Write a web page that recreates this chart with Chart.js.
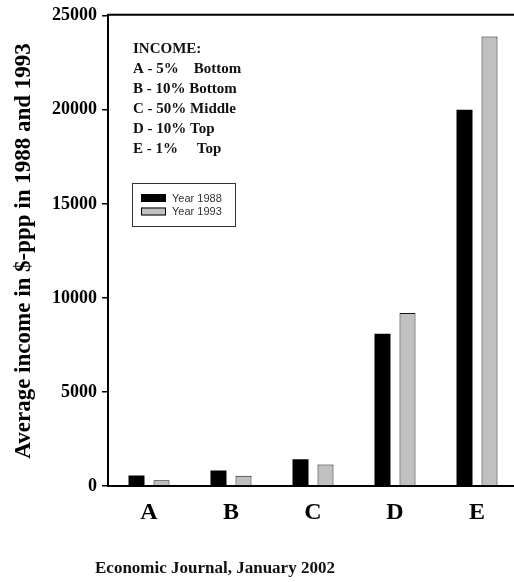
<!DOCTYPE html>
<html>
<head>
<meta charset="utf-8">
<script src="https://cdn.jsdelivr.net/npm/chart.js@4/dist/chart.umd.min.js"></script>
<style>
  html, body { margin: 0; padding: 0; background: #fff; overflow: hidden; }
  #wrap { position: relative; width: 518px; height: 582px; }
</style>
</head>
<body>
<div id="wrap"><canvas id="barChart" width="518" height="582"></canvas></div>
<script>
  // chart data
  const categories = ["A", "B", "C", "D", "E"];
  const year1988 = [560, 820, 1420, 8100, 20000];
  const year1993 = [300, 540, 1140, 9200, 23900];
  const yTicks = [0, 5000, 10000, 15000, 20000, 25000];
  const incomeLines = [
    "INCOME:",
    "A - 5%    Bottom",
    "B - 10% Bottom",
    "C - 50% Middle",
    "D - 10% Top",
    "E - 1%     Top",
  ];
  const sourceNote = "Economic Journal, January 2002";

  const serif = "'Liberation Serif', 'Times New Roman', serif";

  // draws the text block, the boxed legend, the top frame line and the source line
  const extras = {
    id: "extras",
    afterDraw(chart) {
      const ctx = chart.ctx;
      const area = chart.chartArea;
      ctx.save();

      // top frame line
      ctx.strokeStyle = "#000";
      ctx.lineWidth = 2;
      ctx.beginPath();
      ctx.moveTo(area.left - 1, area.top - 1);
      ctx.lineTo(chart.width, area.top - 1);
      ctx.stroke();

      // income groups
      ctx.fillStyle = "#111";
      ctx.font = "bold 15px " + serif;
      ctx.textBaseline = "alphabetic";
      incomeLines.forEach((t, i) => ctx.fillText(t, 133, 53 + i * 20));

      // legend box
      ctx.lineWidth = 1;
      ctx.strokeStyle = "#333";
      ctx.strokeRect(132.5, 183.5, 103, 43);
      ctx.font = "11px 'Liberation Sans', Arial, sans-serif";
      ctx.textBaseline = "middle";
      chart.data.datasets.forEach((ds, i) => {
        const y = 194 + i * 13.5;
        ctx.fillStyle = ds.backgroundColor;
        ctx.fillRect(141, y, 25, 8);
        ctx.strokeStyle = "#000";
        ctx.strokeRect(141.5, y + 0.5, 24, 7);
        ctx.fillStyle = "#333";
        ctx.fillText(ds.label, 172, y + 4.5);
      });

      // source line
      ctx.fillStyle = "#111";
      ctx.font = "bold 17px " + serif;
      ctx.textBaseline = "alphabetic";
      ctx.fillText(sourceNote, 95, 573);
      ctx.restore();
    },
  };

  let ctx = document.getElementById("barChart").getContext("2d");

  let barChart = new Chart(ctx, {
    type: "bar",
    data: {
      labels: categories,
      datasets: [
        {
          label: "Year 1988",
          data: year1988,
          backgroundColor: "#000000",
          borderColor: "#000000",
          borderWidth: 0,
          categoryPercentage: 0.61,
          barPercentage: 0.64,
        },
        {
          label: "Year 1993",
          data: year1993,
          backgroundColor: "#c0c0c0",
          borderColor: "#111111",
          borderWidth: 1,
          borderSkipped: "bottom",
          categoryPercentage: 0.61,
          barPercentage: 0.64,
        },
      ],
    },
    options: {
      responsive: false,
      animation: false,
      layout: { padding: { top: 15, right: 0, left: 0, bottom: 0 } },
      plugins: {
        legend: { display: false },
        tooltip: { enabled: false },
      },
      scales: {
        x: {
          grid: { display: false, drawTicks: false },
          border: { display: true, color: "#000", width: 2 },
          ticks: {
            color: "#000",
            padding: 12,
            font: { family: serif, size: 24, weight: "bold" },
          },
          afterFit: (scale) => { scale.height = 96; },
        },
        y: {
          min: 0,
          max: 25000,
          afterBuildTicks: (scale) => { scale.ticks = yTicks.map((v) => ({ value: v })); },
          grid: { drawOnChartArea: false, drawTicks: true, tickLength: 6, color: "#000", lineWidth: 1.5 },
          border: { display: true, color: "#000", width: 2 },
          ticks: {
            color: "#000",
            padding: 5,
            font: { family: serif, size: 18, weight: "bold" },
            callback: (v) => String(v),
          },
          title: {
            display: true,
            text: "Average income in $-ppp in 1988 and 1993",
            color: "#000",
            padding: { top: 10, bottom: 0 },
            font: { family: serif, size: 23, weight: "bold" },
          },
          afterFit: (scale) => { scale.width = 108; },
        },
      },
    },
    plugins: [extras],
  });
</script>
</body>
</html>
